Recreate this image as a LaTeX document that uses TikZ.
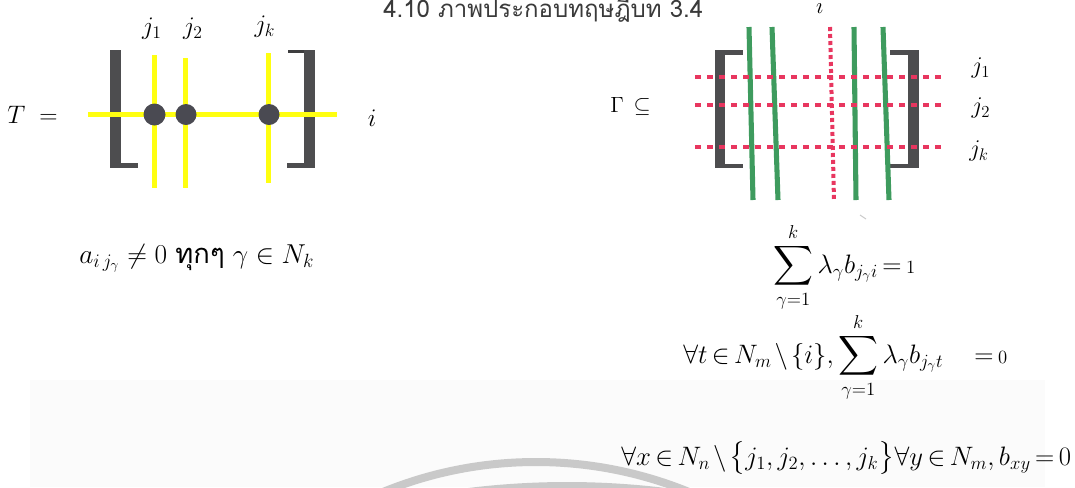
\documentclass[tikz,border=0pt]{standalone}
\usepackage{fix-cm}
\usepackage{amsmath}
\usepackage{fontspec}
\newfontfamily\thaifont[Script=Thai]{Loma}

\definecolor{brk}{HTML}{4D4D4F}
\definecolor{yel}{HTML}{FFFF10}
\definecolor{dotc}{HTML}{4A4A52}
\definecolor{grn}{HTML}{3E9B5E}
\definecolor{rdot}{HTML}{E8365F}
\definecolor{wm}{HTML}{C9C9C9}
\definecolor{band}{HTML}{FBFBFB}
\definecolor{ttl}{HTML}{3A3A3A}

\newcommand\tightmath{\thickmuskip=3mu plus 1mu\medmuskip=2mu plus 1mu}

\tikzset{
  yelline/.style={draw=yel, line width=4.3pt},
  grnline/.style={draw=grn, line width=3.8pt},
  rowdots/.style={draw=rdot, line width=3.3pt, dash pattern=on 4.5pt off 4.5pt},
  coldots/.style={draw=rdot, line width=3pt, dash pattern=on 3pt off 2.25pt},
  lbl/.style={inner sep=0pt, font=\fontsize{19}{22}\selectfont},
  rlbl/.style={inner sep=0pt, font=\fontsize{18}{21}\selectfont},
  frm/.style={inner sep=0pt, font=\fontsize{20}{24}\selectfont\tightmath},
}

\begin{document}
\begin{tikzpicture}[x=0.75pt, y=-0.75pt]
\useasboundingbox (0,0) rectangle (1075,487);

% faint panel and watermark arcs at the foot
\fill[band] (30,380) rectangle (1045,487);
\begin{scope}
  \clip (0,0) rectangle (1075,487);
  \draw[wm, line width=6pt] (536,866) circle[radius=404];
  \draw[wm, line width=6pt] (567,1286) circle[radius=800];
\end{scope}

% caption
\node[anchor=base west, inner sep=0pt, text=ttl, font=\thaifont\fontsize{18}{21}\selectfont]
  (title) at (383,17) {4.10 ภาพประกอบทฤษฎีบท 3.4};

% ---------- left: the row i of T ----------
\node[lbl, anchor=base west] (Teq) at (7,123) {$T\;=$};
\node[lbl] (ja) at (152,29) {$j_1$};
\node[lbl] (jb) at (193,29) {$j_2$};
\node[lbl] (jc) at (265,27) {$j_k$};
\node[lbl] (irow) at (372,118) {$i$};

% brackets
\fill[brk] (110,50) rectangle (121,168);
\fill[brk] (121,163) rectangle (138,168);
\fill[brk] (304,50) rectangle (315,168);
\fill[brk] (287,163) rectangle (304,168);
\fill[brk!80!black] (288,50) rectangle (304,52.5);

% row and columns
\draw[yelline] (88,114.5) -- (337,114.5);
\draw[yelline] (154.5,55) -- (154.5,188);
\draw[yelline] (185.5,58) -- (185.5,188);
\draw[yelline] (268.5,53) -- (268.5,183);

\fill[dotc] (154.5,114.5) circle[radius=11];
\fill[dotc] (186,114.5) circle[radius=10.5];
\fill[dotc] (269,114.5) circle[radius=10.5];

\node[anchor=base west, inner sep=0pt, font=\fontsize{20.5}{24}\selectfont] (cond) at (79,263)
  {$a_{i\,j_\gamma}\neq 0$ {\thaifont ทุกๆ} $\gamma\in N_k$};

% ---------- right: Gamma ----------
\node[anchor=base west, inner sep=0pt, font=\fontsize{16.5}{20}\selectfont] (gam) at (610,112)
  {$\Gamma\,\subseteq$};
\node[inner sep=0pt, anchor=base, font=\fontsize{17}{20}\selectfont] (itop) at (820,13) {$i$};
\node[rlbl] (ra) at (981,68) {$j_1$};
\node[rlbl] (rb) at (981,108) {$j_2$};
\node[rlbl] (rc) at (979,151) {$j_k$};

% brackets
\fill[brk] (715,50) rectangle (725,168);
\fill[brk] (725,50) rectangle (743,54.5);
\fill[brk] (725,163.5) rectangle (743,168);
\fill[brk] (908,50) rectangle (919,168);
\fill[brk] (890,50) rectangle (908,54.5);
\fill[brk] (890,163.5) rectangle (908,168);

% columns of Gamma
\draw[grnline] (749,27) -- (753,200);
\draw[grnline] (772,27) -- (778,200);
\draw[grnline] (854,27) -- (856,200);
\draw[grnline] (883,27) -- (889,200);

% dotted rows j_1, j_2, j_k and column i
\draw[rowdots] (695,76.7) -- (945,76.7);
\draw[rowdots] (695,105) -- (945,105);
\draw[rowdots] (695,146.7) -- (945,146.7);
\draw[coldots] (830,27) -- (834,201);

\draw[gray!40, line width=0.8pt] (860,215) -- (866,219);

% conditions on the rows of Gamma
\node[frm, anchor=base west] (sumi) at (773,273)
  {$\displaystyle\sum_{\gamma=1}^{k}\lambda_\gamma b_{j_\gamma i}={\scriptstyle 1}$};
\node[frm, anchor=base west] (sumt) at (683,363)
  {$\forall t\in N_m\setminus\{i\},\displaystyle\sum_{\gamma=1}^{k}\lambda_\gamma b_{j_\gamma t}\quad={\scriptstyle 0}$};
\node[frm, anchor=base west] (rest) at (621,465)
  {$\forall x\in N_n\setminus\big\{j_1,j_2,\ldots,j_k\big\}\forall y\in N_m,b_{xy}=0$};
\end{tikzpicture}
\end{document}
